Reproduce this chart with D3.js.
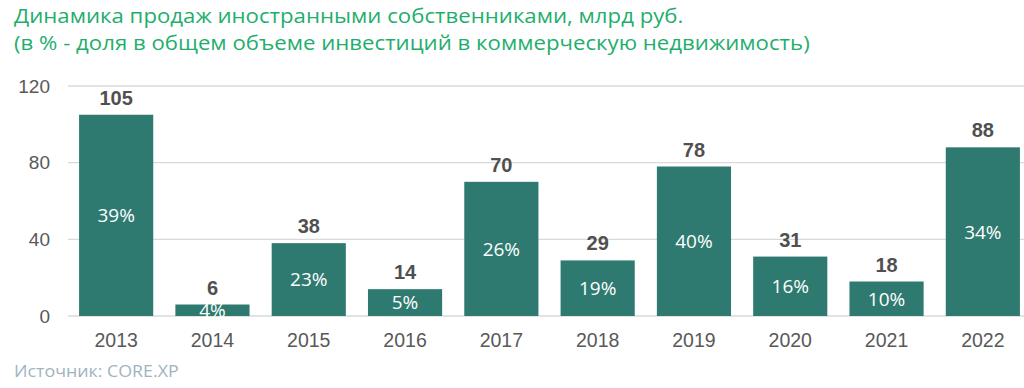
<!DOCTYPE html>
<html><head><meta charset="utf-8">
<script src="https://cdn.jsdelivr.net/npm/d3@7"></script>
<style>body{margin:0;background:#fff}svg{display:block}</style>
</head><body>
<svg id="c" width="1024" height="388"></svg>
<script>
const years = ["2013","2014","2015","2016","2017","2018","2019","2020","2021","2022"];
const values = [105,6,38,14,70,29,78,31,18,88];
const shares = ["39%","4%","23%","5%","26%","19%","40%","16%","10%","34%"];
const yTicks = [0,40,80,120];
const titleLines = ["Динамика продаж иностранными собственниками, млрд руб.","(в % - доля в общем объеме инвестиций в коммерческую недвижимость)"];
const sourceText = "Источник: CORE.XP";

const svg = d3.select("#c");
const sans = "'Liberation Sans', Arial, sans-serif";
const open = "'Open Sans', 'Noto Sans', sans-serif";
const x = d3.scaleBand().domain(years).range([68,1031]).paddingInner(0.23).paddingOuter(0.115);
const y = d3.scaleLinear().domain([0,120]).range([316,86]);

svg.append("g").selectAll("line").data(yTicks).join("line")
  .attr("x1",68).attr("x2",1024).attr("y1",d=>y(d)).attr("y2",d=>y(d))
  .attr("stroke","#d9d9d9").attr("stroke-width",1.3);

const yAxis = d3.axisLeft(y).tickValues(yTicks).tickSize(0).tickPadding(0);
const ga = svg.append("g").attr("transform","translate(50,0)").call(yAxis);
ga.select(".domain").remove();
ga.selectAll("text").attr("font-family",sans).attr("font-size",19).attr("fill","#595959");

const xAxis = d3.axisBottom(x).tickSize(0).tickPadding(0);
const gx = svg.append("g").attr("transform","translate(0,333)").call(xAxis);
gx.select(".domain").remove();
gx.selectAll("text").attr("font-family",sans).attr("font-size",19.5).attr("fill","#595959").attr("y",14).attr("dy",0);

const data = years.map((yr,i)=>({yr,v:values[i],s:shares[i]}));
svg.append("g").selectAll("rect").data(data).join("rect")
  .attr("x",d=>x(d.yr)).attr("width",x.bandwidth())
  .attr("y",d=>y(d.v)).attr("height",d=>y(0)-y(d.v))
  .attr("fill","#2e7a70");

svg.append("g").selectAll("text").data(data).join("text")
  .attr("x",d=>x(d.yr)+x.bandwidth()/2).attr("y",d=>y(d.v)-10)
  .attr("text-anchor","middle").attr("font-family",sans).attr("font-weight","bold")
  .attr("font-size",20).attr("fill","#505050").text(d=>d.v);

svg.append("g").selectAll("text").data(data).join("text")
  .attr("x",d=>x(d.yr)+x.bandwidth()/2).attr("y",d=>(y(d.v)+y(0))/2)
  .attr("dy","0.36em")
  .attr("text-anchor","middle").attr("font-family",open)
  .attr("font-size",19).attr("fill","#ffffff").text(d=>d.s);

svg.append("g").attr("transform","translate(14,0) scale(1.083,1)")
  .selectAll("text").data(titleLines).join("text")
  .attr("x",0).attr("y",(d,i)=>23+i*27)
  .attr("font-family",open).attr("font-size",20.5).attr("fill","#1fae6d").text(d=>d);

svg.append("g").attr("transform","translate(14,0) scale(1.08,1)")
  .append("text").attr("x",0).attr("y",377).attr("font-family",open)
  .attr("font-size",16.5).attr("fill","#9fb4bf").text(sourceText);
</script>
</body></html>
